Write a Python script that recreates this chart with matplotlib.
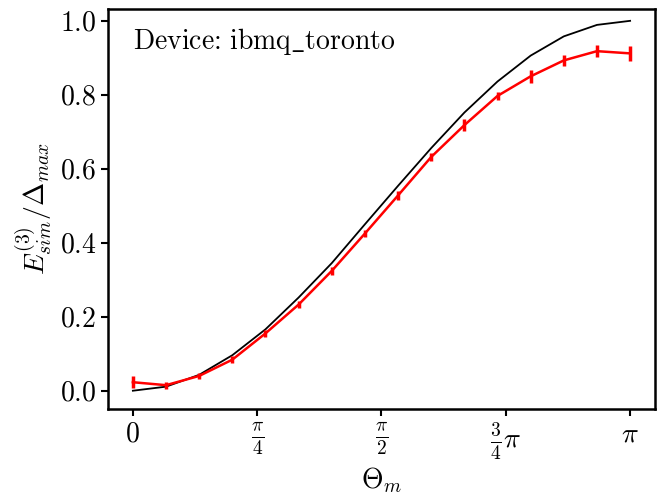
import numpy as np
import matplotlib
matplotlib.use("Agg")
import matplotlib.pyplot as plt

plt.rcParams["mathtext.fontset"] = "cm"
plt.rcParams["font.family"] = "serif"
plt.rcParams["font.serif"] = ["cmr10", "DejaVu Serif"]
plt.rcParams["axes.formatter.use_mathtext"] = True

# angle grid: 16 points from 0 to pi
theta = np.linspace(0, np.pi, 16)

# exact (black) curve
exact = [0.0, 0.011, 0.043, 0.096, 0.166, 0.252, 0.345, 0.450,
         0.554, 0.656, 0.752, 0.836, 0.906, 0.958, 0.989, 1.0]

# device result (red) with error bars
device = [0.023, 0.015, 0.040, 0.084, 0.155, 0.233, 0.324, 0.425,
          0.528, 0.632, 0.718, 0.797, 0.850, 0.893, 0.918, 0.912]
device_err = [0.016, 0.009, 0.009, 0.010, 0.009, 0.009, 0.011, 0.010,
              0.013, 0.010, 0.017, 0.010, 0.018, 0.014, 0.016, 0.021]

xticks = [0, np.pi / 4, np.pi / 2, 3 * np.pi / 4, np.pi]
xtick_labels = [r"$0$", r"$\frac{\pi}{4}$", r"$\frac{\pi}{2}$",
                r"$\frac{3}{4}\pi$", r"$\pi$"]
yticks = [0.0, 0.2, 0.4, 0.6, 0.8, 1.0]
ytick_labels = [r"$%.1f$" % v for v in yticks]

fig = plt.figure(figsize=(6.68, 4.94), dpi=100)
ax = fig.add_axes([0.1617, 0.172, 0.8188, 0.8098])

ax.plot(theta, exact, color="black", lw=1.3)
ax.errorbar(theta, device, yerr=device_err, color="red", lw=1.8,
            elinewidth=2.5, capsize=0)

ax.set_xlim(-0.05 * np.pi, 1.05 * np.pi)
ax.set_ylim(-0.0495, 1.032)
ax.set_xticks(xticks)
ax.set_xticklabels(xtick_labels, fontsize=20)
ax.set_yticks(yticks)
ax.set_yticklabels(ytick_labels, fontsize=20)
ax.tick_params(width=1.5, length=5)
for s in ax.spines.values():
    s.set_linewidth(1.8)

ax.set_xlabel(r"$\Theta_m$", fontsize=20, labelpad=2)
ax.set_ylabel(r"$E^{(3)}_{sim}/\Delta_{max}$", fontsize=20, labelpad=4)

ax.text(0.046, 0.9, r"$\text{Device:}\ \mathrm{ibmq\_toronto}$", transform=ax.transAxes,
        fontsize=20, va="baseline")

fig.savefig("out.png", dpi=100)
